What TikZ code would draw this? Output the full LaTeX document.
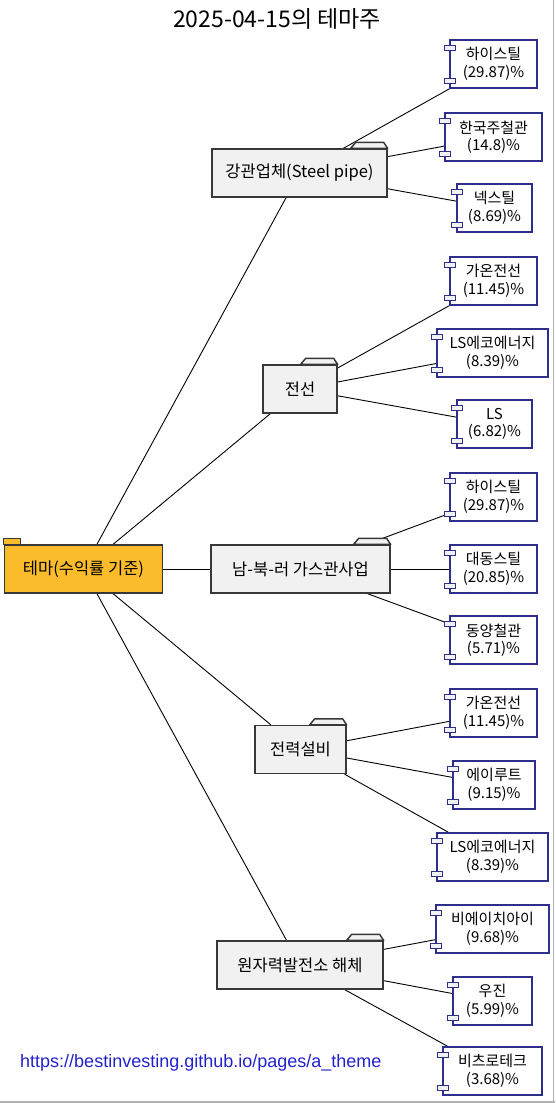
\documentclass[tikz,border=0pt]{standalone}
\usepackage{fontspec}
\setmainfont{Noto Sans CJK KR}
\newfontfamily\urlfont{Liberation Sans}
\usetikzlibrary{calc,backgrounds}
\definecolor{folderfill}{HTML}{F1F1F1}
\definecolor{folderline}{HTML}{383838}
\definecolor{rootfill}{HTML}{FBBC2C}
\definecolor{compline}{HTML}{2E2E8C}
\definecolor{urlblue}{HTML}{2222CC}
\newcommand\foldertab[1]{\draw[foldertabstyle] ($(#1.north east)+(-37,0)$) -- ++(5,-6) -- ($(#1.north east)+(-4,-6)$) -- (#1.north east) -- cycle;}
\newcommand\compports[1]{\draw[portstyle] ($(#1.north west)+(-5,6)$) rectangle ++(11,5); \draw[portstyle] ($(#1.south west)+(-5,-10)$) rectangle ++(11,5);}
\begin{document}
\begin{tikzpicture}[x=1pt,y=-1pt,
  folder/.style={draw=folderline, fill=folderfill, line width=1.3pt, inner sep=0pt, minimum height=48pt, font=\fontsize{16.5}{19}\selectfont},
  foldertabstyle/.style={draw=folderline, fill=folderfill, line width=1.5pt, line join=round},
  rootbox/.style={draw=folderline, fill=rootfill, line width=1.3pt, inner sep=0pt, minimum height=48pt, minimum width=158pt, font=\fontsize{16.5}{19}\selectfont},
  comp/.style={draw=compline, fill=white, line width=1.3pt, inner sep=0pt, minimum height=48pt, align=center, font=\fontsize{15}{17.5}\selectfont},
  portstyle/.style={draw=compline, fill=folderfill, line width=1pt},
  edge/.style={draw=black, line width=0.9pt}]
\useasboundingbox (0,0) rectangle (555,1103);
\draw[gray!60, line width=1.5pt] (0,1102) -- (555,1102);
\draw[gray!60, line width=1.5pt] (553.5,0) -- (553.5,1103);

\node[font=\fontsize{23}{26}\selectfont] (title) at (277,19) {2025-04-15의 테마주};

\node[rootbox] (root) at (83.5,569) {테마(수익률 기준)};
\draw[draw=folderline, fill=rootfill, line width=1.2pt] (root.north west) rectangle ($(root.north west)+(17,-6)$);

\node[folder, minimum width=175pt] (g1) at (299.5,173) {강관업체(Steel pipe)};
\node[folder, minimum width=74pt] (g2) at (300,389) {전선};
\node[folder, minimum width=179pt] (g3) at (300.5,569) {남-북-러 가스관사업};
\node[folder, minimum width=91pt] (g4) at (300.5,749.5) {전력설비};
\node[folder, minimum width=166pt] (g5) at (300,965) {원자력발전소 해체};
\foldertab{g1}\foldertab{g2}\foldertab{g3}\foldertab{g4}\foldertab{g5}

\node[comp, minimum width=87pt] (c1) at (493.5,64) {하이스틸\\(29.87)\%};
\node[comp, minimum width=97pt] (c2) at (493.5,137) {한국주철관\\(14.8)\%};
\node[comp, minimum width=75pt] (c3) at (494.5,208) {넥스틸\\(8.69)\%};
\node[comp, minimum width=87pt] (c4) at (493.5,281) {가온전선\\(11.45)\%};
\node[comp, minimum width=111pt] (c5) at (492.5,353) {LS에코에너지\\(8.39)\%};
\node[comp, minimum width=75pt] (c6) at (494.5,424) {LS\\(6.82)\%};
\node[comp, minimum width=87pt] (c7) at (493.5,497) {하이스틸\\(29.87)\%};
\node[comp, minimum width=87pt] (c8) at (493.5,569) {대동스틸\\(20.85)\%};
\node[comp, minimum width=87pt] (c9) at (493.5,640) {동양철관\\(5.71)\%};
\node[comp, minimum width=87pt] (c10) at (493.5,713) {가온전선\\(11.45)\%};
\node[comp, minimum width=82pt] (c11) at (494,785) {에이루트\\(9.15)\%};
\node[comp, minimum width=111pt] (c12) at (492.5,857) {LS에코에너지\\(8.39)\%};
\node[comp, minimum width=113pt] (c13) at (492.5,929) {비에이치아이\\(9.68)\%};
\node[comp, minimum width=79pt] (c14) at (492.5,1001) {우진\\(5.99)\%};
\node[comp, minimum width=99pt] (c15) at (492.5,1071) {비츠로테크\\(3.68)\%};
\foreach \c in {c1,c2,c3,c4,c5,c6,c7,c8,c9,c10,c11,c12,c13,c14,c15} {\compports{\c}}

\node[anchor=west, text=urlblue, font=\urlfont\fontsize{18}{21}\selectfont, inner sep=0pt] (url) at (20,1063) {https://bestinvesting.github.io/pages/a\_theme};

\begin{scope}[on background layer]
\draw[edge] (root) -- (g1);
\draw[edge] (root) -- (g2);
\draw[edge] (root) -- (g3);
\draw[edge] (root) -- (g4);
\draw[edge] (root) -- (g5);
\draw[edge] (g1) -- (c1);
\draw[edge] (g1) -- (c2);
\draw[edge] (g1) -- (c3);
\draw[edge] (g2) -- (c4);
\draw[edge] (g2) -- (c5);
\draw[edge] (g2) -- (c6);
\draw[edge] (g3) -- (c7);
\draw[edge] (g3) -- (c8);
\draw[edge] (g3) -- (c9);
\draw[edge] (g4) -- (c10);
\draw[edge] (g4) -- (c11);
\draw[edge] (g4) -- (c12);
\draw[edge] (g5) -- (c13);
\draw[edge] (g5) -- (c14);
\draw[edge] (g5) -- (c15);
\end{scope}
\end{tikzpicture}
\end{document}
